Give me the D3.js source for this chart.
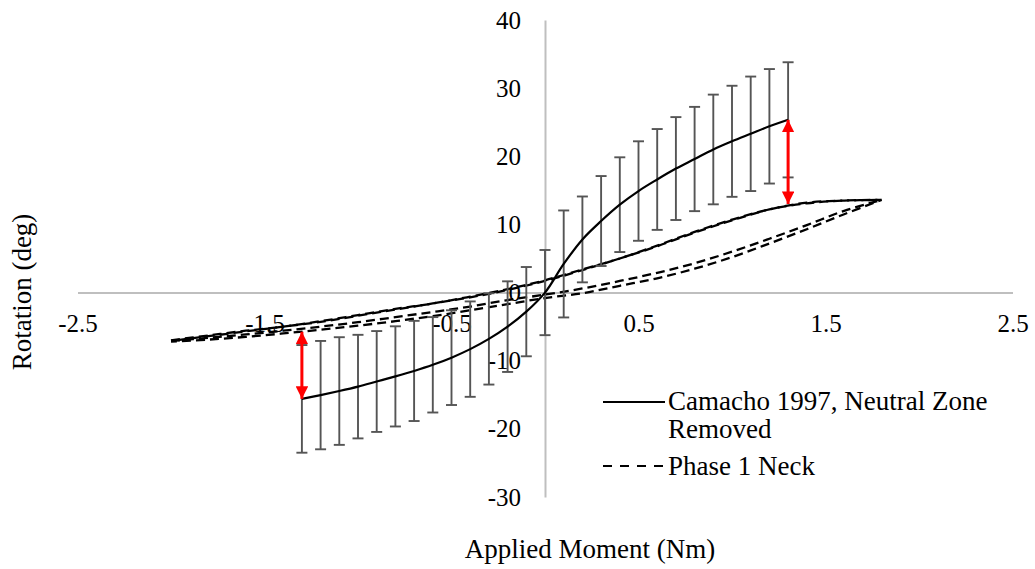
<!DOCTYPE html>
<html>
<head>
<meta charset="utf-8">
<script src="https://cdn.jsdelivr.net/npm/d3@7"></script>
<style>
  body { margin: 0; background: #fff; }
  svg { display: block; }
  text { font-family: "Liberation Serif", "Times New Roman", serif; fill: #000; }
</style>
</head>
<body>
<svg id="chart" width="1035" height="569"></svg>
<script>
// Axis ticks
const xTicks = [-2.5, -1.5, -0.5, 0.5, 1.5, 2.5];
const yTicks = [-30, -20, -10, 0, 10, 20, 30, 40];

// Camacho 1997 (neutral zone removed): mean rotation and standard deviation
const camachoMoment = [-1.3, -1.2, -1.1, -1.0, -0.9, -0.8, -0.7, -0.6, -0.5, -0.4, -0.3, -0.2, -0.1,
                       0, 0.1, 0.2, 0.3, 0.4, 0.5, 0.6, 0.7, 0.8, 0.9, 1.0, 1.1, 1.2, 1.3];
const camachoRotation = [-15.6, -15.05, -14.45, -13.8, -13.05, -12.3, -11.5, -10.6, -9.55, -8.3, -6.8, -5.0, -2.8,
                         0.0, 4.2, 7.8, 10.5, 12.9, 14.9, 16.6, 18.2, 19.6, 21.0, 22.2, 23.3, 24.4, 25.35];
const camachoSD = [7.9, 7.95, 7.9, 7.6, 7.4, 7.35, 7.35, 7.0, 6.95, 7.0, 6.7, 6.65, 6.55,
                   6.25, 7.85, 6.3, 6.6, 6.95, 7.3, 7.4, 7.55, 7.65, 8.05, 8.15, 8.4, 8.4, 8.45];

// Phase 1 neck: two load/unload cycles sampled on a common moment grid
const neckMoment = [-2.0, -1.8, -1.6, -1.4, -1.2, -1.0, -0.8, -0.6, -0.4, -0.2,
                    0, 0.2, 0.4, 0.6, 0.8, 1.0, 1.2, 1.4, 1.6, 1.8];
const neckLoading1 = [-7.1, -6.65, -6.15, -5.6, -5.0, -4.35, -3.6, -2.85, -2.05, -1.1,
                      -0.3, 0.6, 1.7, 2.9, 4.3, 6.0, 7.9, 9.9, 12.0, 13.6];
const neckLoading2 = [-7.2, -6.9, -6.5, -6.0, -5.45, -4.85, -4.2, -3.45, -2.6, -1.7,
                      -0.8, -0.1, 1.0, 2.1, 3.5, 5.2, 7.2, 9.3, 11.5, 13.6];
const neckUnloading1 = [-7.0, -6.3, -5.6, -5.0, -4.2, -3.3, -2.4, -1.6, -0.6, 0.5,
                        1.8, 3.4, 5.0, 6.9, 8.9, 10.7, 12.2, 13.2, 13.5, 13.6];
const neckUnloading2 = [-7.1, -6.4, -5.7, -5.0, -4.3, -3.4, -2.5, -1.6, -0.7, 0.4,
                        1.7, 3.3, 5.0, 6.8, 8.8, 10.6, 12.2, 13.1, 13.5, 13.6];

// Difference markers between the two data sets
const arrowMoment = [-1.3, 1.3];
const arrowFrom = [-5.75, 13.0];
const arrowTo = [-15.6, 25.35];

const legendLabels = [["Camacho 1997, Neutral Zone", "Removed"], ["Phase 1 Neck"]];

const svg = d3.select("#chart");
const x = d3.scaleLinear().domain([-2.5, 2.5]).range([77.5, 1012.5]);
const y = d3.scaleLinear().domain([-30, 40]).range([497, 20]);

const axisColor = "#bfbfbf";
const fontSize = 25;

// Horizontal axis through zero rotation
const gx = svg.append("g")
  .attr("transform", `translate(0,${y(0)})`)
  .call(d3.axisBottom(x).tickValues(xTicks).tickSize(0).tickSizeOuter(0).tickPadding(22)
        .tickFormat(d => d.toFixed(1)));
gx.select(".domain").attr("stroke", axisColor).attr("stroke-width", 2);
gx.selectAll("text").attr("font-size", fontSize).attr("font-family", "Liberation Serif").attr("fill", "#000");

// Vertical axis through zero moment
const gy = svg.append("g")
  .attr("transform", `translate(${x(0)},0)`)
  .call(d3.axisLeft(y).tickValues(yTicks).tickSize(0).tickSizeOuter(0).tickPadding(24)
        .tickFormat(d => String(d)));
gy.select(".domain").attr("stroke", axisColor).attr("stroke-width", 2);
gy.selectAll("text").attr("font-size", fontSize).attr("font-family", "Liberation Serif").attr("fill", "#000");

// Axis titles
svg.append("text")
  .attr("x", 590).attr("y", 558)
  .attr("text-anchor", "middle").attr("font-size", 27)
  .text("Applied Moment (Nm)");
svg.append("text")
  .attr("transform", "translate(31,292) rotate(-90)")
  .attr("text-anchor", "middle").attr("font-size", 27)
  .text("Rotation (deg)");

const line = d3.line().x(d => x(d[0])).y(d => y(d[1])).curve(d3.curveCatmullRom.alpha(0.5));

// Phase 1 neck hysteresis curves (dashed)
const neckSeries = [
  { values: neckLoading1, offset: 0 },
  { values: neckLoading2, offset: 3 },
  { values: neckUnloading1, offset: 0 },
  { values: neckUnloading2, offset: 7 }
];
svg.append("g").selectAll("path")
  .data(neckSeries)
  .join("path")
  .attr("d", s => line(neckMoment.map((m, i) => [m, s.values[i]])))
  .attr("fill", "none")
  .attr("stroke", "#000")
  .attr("stroke-width", 2.3)
  .attr("stroke-dasharray", "9,5")
  .attr("stroke-dashoffset", s => s.offset);

// Camacho error bars
const eb = svg.append("g").attr("stroke", "#555").attr("stroke-width", 1.9);
camachoMoment.forEach((m, i) => {
  const lo = camachoRotation[i] - camachoSD[i];
  const hi = camachoRotation[i] + camachoSD[i];
  eb.append("line").attr("x1", x(m)).attr("x2", x(m)).attr("y1", y(lo)).attr("y2", y(hi));
  eb.append("line").attr("x1", x(m) - 5.5).attr("x2", x(m) + 5.5).attr("y1", y(lo)).attr("y2", y(lo));
  eb.append("line").attr("x1", x(m) - 5.5).attr("x2", x(m) + 5.5).attr("y1", y(hi)).attr("y2", y(hi));
});

// Camacho mean curve
svg.append("path")
  .attr("d", line(camachoMoment.map((m, i) => [m, camachoRotation[i]])))
  .attr("fill", "none").attr("stroke", "#000").attr("stroke-width", 2.2);

// Red double-headed arrows
const defs = svg.append("defs");
defs.append("marker")
  .attr("id", "head")
  .attr("viewBox", "0 0 10 10")
  .attr("refX", 10).attr("refY", 5)
  .attr("markerWidth", 4.2).attr("markerHeight", 4.2)
  .attr("markerUnits", "strokeWidth")
  .attr("orient", "auto-start-reverse")
  .append("path").attr("d", "M0,0 L10,5 L0,10 Z").attr("fill", "#ff0000");

arrowMoment.forEach((m, i) => {
  svg.append("line")
    .attr("x1", x(m)).attr("x2", x(m))
    .attr("y1", y(arrowFrom[i])).attr("y2", y(arrowTo[i]))
    .attr("stroke", "#ff0000").attr("stroke-width", 3)
    .attr("marker-start", "url(#head)").attr("marker-end", "url(#head)");
});

// Legend
const lg = svg.append("g").attr("font-size", 27);
lg.append("line").attr("x1", 603).attr("x2", 665).attr("y1", 402).attr("y2", 402)
  .attr("stroke", "#000").attr("stroke-width", 2);
lg.append("text").attr("x", 668).attr("y", 410).text(legendLabels[0][0]);
lg.append("text").attr("x", 668).attr("y", 438).text(legendLabels[0][1]);
lg.append("line").attr("x1", 603).attr("x2", 665).attr("y1", 466).attr("y2", 466)
  .attr("stroke", "#000").attr("stroke-width", 2).attr("stroke-dasharray", "9,8");
lg.append("text").attr("x", 668).attr("y", 475).text(legendLabels[1][0]);
</script>
</body>
</html>
